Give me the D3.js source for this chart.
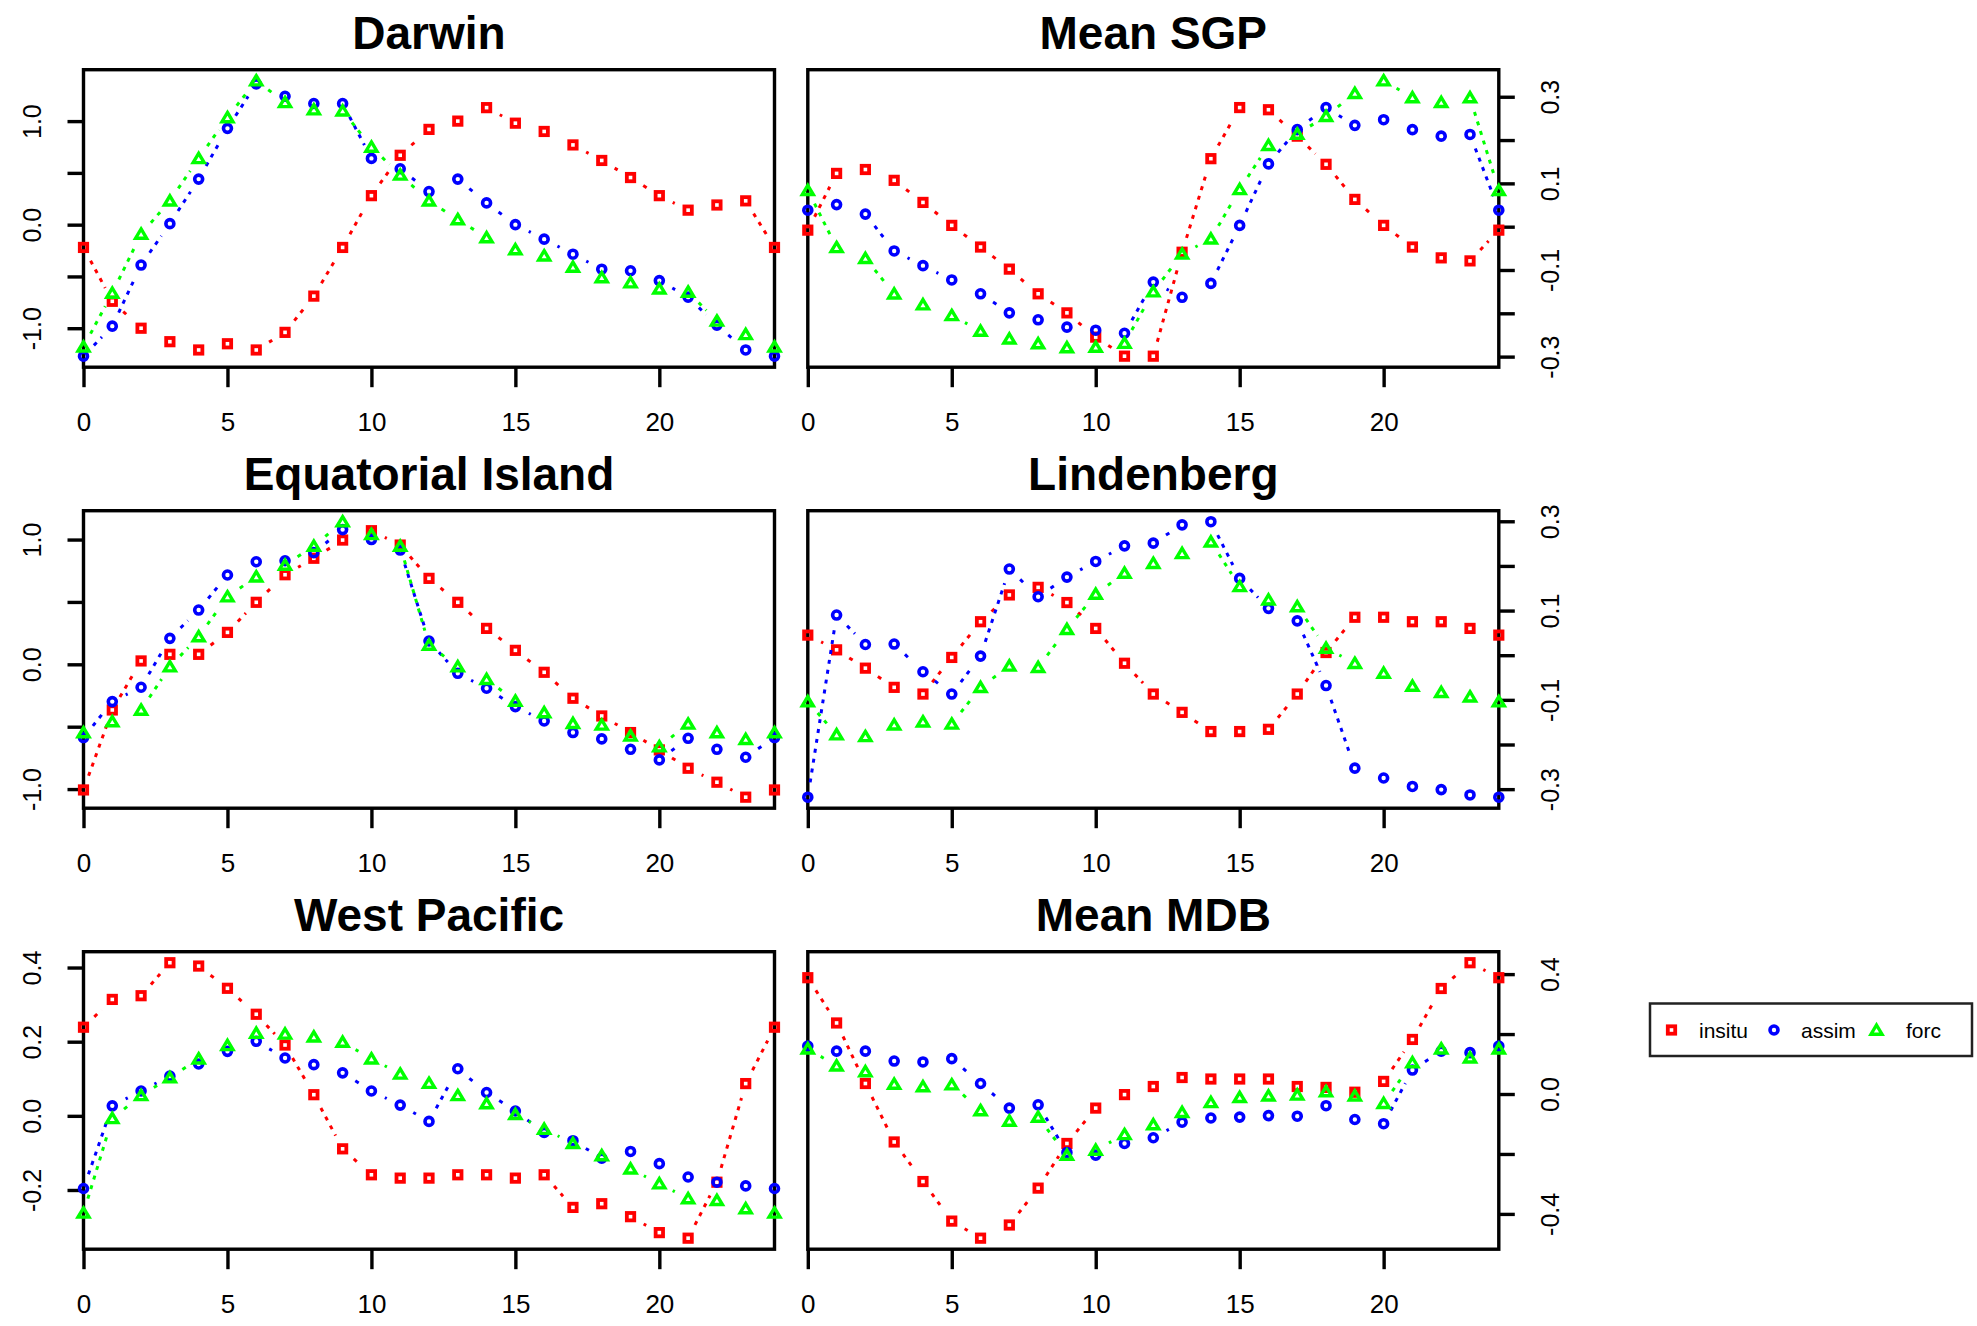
<!DOCTYPE html>
<html>
<head>
<meta charset="utf-8">
<script src="https://cdn.jsdelivr.net/npm/d3@7"></script>
<style>
body { margin: 0; background: #fff; }
svg text { font-family: "Liberation Sans", Arial, sans-serif; fill: #000; }
</style>
</head>
<body>
<div id="chart"></div>
<script>
// hours of the diurnal cycle
var hours = [0,1,2,3,4,5,6,7,8,9,10,11,12,13,14,15,16,17,18,19,20,21,22,23,24]
var xTicks = [0,5,10,15,20]

var seriesNames = ["insitu","assim","forc"]
var seriesColors = ["#ff0000","#0000ff","#00ff00"]

// Darwin
var darwinInsitu = [-0.22,-0.74,-1.00,-1.13,-1.21,-1.15,-1.21,-1.04,-0.69,-0.22,0.28,0.67,0.92,1.00,1.13,0.98,0.90,0.77,0.62,0.455,0.28,0.14,0.19,0.23,-0.22]
var darwinAssim = [-1.27,-0.98,-0.39,0.01,0.44,0.93,1.36,1.24,1.17,1.17,0.64,0.54,0.32,0.44,0.21,0.00,-0.14,-0.285,-0.43,-0.445,-0.54,-0.70,-0.97,-1.21,-1.27]
var darwinForc = [-1.18,-0.66,-0.09,0.23,0.64,1.035,1.39,1.18,1.11,1.10,0.75,0.48,0.23,0.05,-0.125,-0.24,-0.30,-0.41,-0.51,-0.56,-0.62,-0.65,-0.93,-1.06,-1.18]
var darwinTicks = [-1,-0.5,0,0.5,1]
var darwinLabels = [-1,0,1]

// Mean SGP
var sgpInsitu = [-0.008,0.123,0.132,0.107,0.056,0.003,-0.047,-0.098,-0.155,-0.199,-0.255,-0.299,-0.299,-0.059,0.157,0.275,0.27,0.209,0.144,0.063,0.003,-0.047,-0.072,-0.079,-0.008]
var sgpAssim = [0.038,0.051,0.029,-0.056,-0.09,-0.123,-0.155,-0.199,-0.215,-0.232,-0.239,-0.246,-0.128,-0.163,-0.131,0.003,0.145,0.224,0.275,0.234,0.247,0.224,0.209,0.213,0.038]
var sgpForc = [0.084,-0.048,-0.073,-0.155,-0.18,-0.205,-0.241,-0.259,-0.27,-0.279,-0.278,-0.269,-0.15,-0.063,-0.028,0.086,0.188,0.214,0.255,0.308,0.337,0.298,0.287,0.298,0.084]
var sgpTicks = [-0.3,-0.2,-0.1,0,0.1,0.2,0.3]
var sgpLabels = [-0.3,-0.1,0.1,0.3]

// Equatorial Island
var eqInsitu = [-1.007,-0.366,0.027,0.08,0.08,0.256,0.497,0.718,0.85,0.996,1.071,0.956,0.689,0.497,0.288,0.112,-0.064,-0.272,-0.414,-0.547,-0.686,-0.833,-0.945,-1.065,-1.007]
var eqAssim = [-0.587,-0.299,-0.184,0.208,0.435,0.716,0.822,0.83,0.895,1.08,1.0,0.916,0.187,-0.072,-0.192,-0.339,-0.454,-0.547,-0.598,-0.681,-0.766,-0.593,-0.681,-0.745,-0.587]
var eqForc = [-0.547,-0.459,-0.366,-0.019,0.222,0.542,0.702,0.796,0.948,1.143,1.041,0.948,0.155,-0.019,-0.12,-0.294,-0.387,-0.473,-0.486,-0.574,-0.66,-0.478,-0.547,-0.601,-0.547]
var eqTicks = [-1,-0.5,0,0.5,1]
var eqLabels = [-1,0,1]

// Lindenberg
var lindInsitu = [0.045,0.012,-0.029,-0.072,-0.087,-0.005,0.075,0.135,0.152,0.118,0.06,-0.018,-0.087,-0.128,-0.171,-0.171,-0.166,-0.087,0.006,0.085,0.085,0.075,0.075,0.06,0.045]
var lindAssim = [-0.318,0.09,0.024,0.025,-0.037,-0.087,-0.002,0.193,0.131,0.175,0.21,0.245,0.251,0.292,0.299,0.172,0.105,0.077,-0.068,-0.253,-0.275,-0.294,-0.301,-0.313,-0.318]
var lindForc = [-0.104,-0.178,-0.182,-0.156,-0.149,-0.154,-0.072,-0.024,-0.027,0.058,0.137,0.184,0.206,0.228,0.254,0.154,0.124,0.109,0.016,-0.018,-0.04,-0.069,-0.083,-0.093,-0.104]
var lindTicks = [-0.3,-0.2,-0.1,0,0.1,0.2,0.3]
var lindLabels = [-0.3,-0.1,0.1,0.3]

// West Pacific
var wpInsitu = [0.239,0.314,0.324,0.413,0.404,0.344,0.274,0.191,0.057,-0.089,-0.159,-0.168,-0.168,-0.159,-0.159,-0.168,-0.159,-0.247,-0.237,-0.272,-0.315,-0.33,-0.179,0.087,0.239]
var wpAssim = [-0.196,0.027,0.067,0.107,0.14,0.174,0.201,0.156,0.138,0.116,0.067,0.029,-0.015,0.127,0.063,0.013,-0.045,-0.067,-0.114,-0.096,-0.129,-0.165,-0.179,-0.189,-0.196]
var wpForc = [-0.262,-0.007,0.055,0.103,0.154,0.19,0.223,0.221,0.213,0.199,0.154,0.113,0.088,0.055,0.033,0.004,-0.036,-0.074,-0.107,-0.143,-0.183,-0.223,-0.228,-0.25,-0.262]
var wpTicks = [-0.2,0,0.2,0.4]
var wpLabels = [-0.2,0,0.2,0.4]

// Mean MDB
var mdbInsitu = [0.388,0.237,0.035,-0.16,-0.292,-0.424,-0.481,-0.437,-0.314,-0.165,-0.047,-0.002,0.025,0.055,0.05,0.05,0.05,0.025,0.022,0.006,0.042,0.182,0.352,0.438,0.388]
var mdbAssim = [0.16,0.143,0.143,0.11,0.107,0.118,0.035,-0.047,-0.036,-0.195,-0.204,-0.165,-0.146,-0.094,-0.08,-0.077,-0.072,-0.074,-0.039,-0.085,-0.099,0.08,0.143,0.138,0.16]
var mdbForc = [0.151,0.094,0.075,0.033,0.025,0.031,-0.055,-0.09,-0.077,-0.204,-0.187,-0.135,-0.102,-0.061,-0.028,-0.011,-0.006,-0.003,0.008,-0.006,-0.031,0.105,0.151,0.121,0.151]
var mdbTicks = [-0.4,-0.2,0,0.2,0.4]
var mdbLabels = [-0.4,0,0.4]

var fmt = d3.formatLocale({decimal: ".", thousands: ",", grouping: [3], currency: ["", ""], minus: "-"}).format(".1f")

var svg = d3.select("#chart").append("svg")
    .attr("width", 1977)
    .attr("height", 1326)
svg.append("rect").attr("width", 1977).attr("height", 1326).attr("fill", "#fff")

// one R style panel: box, axes, points joined by broken lines (type = "b")
DiurnalPanel = function(_svg, _title, _series, _ticks, _labels, _left, _top, _side){
    this.svg = _svg
    this.title = _title
    this.series = _series
    this.ticks = _ticks
    this.labels = _labels
    this.left = _left
    this.top = _top
    this.side = _side
    this.initVis()
}

DiurnalPanel.prototype.initVis = function(){
    var vis = this
    vis.width = 691
    vis.height = 297.5
    vis.g = vis.svg.append("g").attr("transform", "translate(" + vis.left + "," + vis.top + ")")

    vis.x = d3.scaleLinear().domain([0, 24]).range([0, vis.width])
    // R default: data range padded 4%
    var ext = d3.extent(d3.merge(vis.series))
    var pad = (ext[1] - ext[0]) * 0.04
    vis.y = d3.scaleLinear().domain([ext[0] - pad, ext[1] + pad]).range([vis.height, 0])

    vis.g.append("text")
        .attr("x", vis.width / 2)
        .attr("y", -21)
        .attr("text-anchor", "middle")
        .style("font-size", "46px")
        .style("font-weight", "bold")
        .text(vis.title)

    vis.g.append("rect")
        .attr("width", vis.width)
        .attr("height", vis.height)
        .attr("fill", "none")
        .attr("stroke", "#000")
        .attr("stroke-width", 3.4)

    var xAxis = d3.axisBottom(vis.x).tickValues(xTicks).tickSize(20).tickPadding(25).tickFormat(d3.format("d"))
    var gx = vis.g.append("g").attr("transform", "translate(0," + vis.height + ")").call(xAxis)
    gx.select(".domain").remove()
    gx.selectAll("line").attr("stroke-width", 3.4)
    gx.selectAll("text").style("font-size", "26px").attr("font-family", null)

    var labelSet = vis.labels.map(function(d){ return fmt(d) })
    var yAxis = (vis.side == "left" ? d3.axisLeft(vis.y) : d3.axisRight(vis.y))
        .tickValues(vis.ticks).tickSize(16)
        .tickFormat(function(d){
            var s = fmt(d)
            return labelSet.indexOf(s) >= 0 ? s : ""
        })
    var gy = vis.g.append("g")
        .attr("transform", vis.side == "left" ? null : "translate(" + vis.width + ",0)")
        .call(yAxis)
    gy.select(".domain").remove()
    gy.selectAll("line").attr("stroke-width", 3.4)
    gy.selectAll("text")
        .attr("x", null).attr("dy", null)
        .attr("text-anchor", "middle")
        .attr("dominant-baseline", "central")
        .attr("transform", "translate(" + (vis.side == "left" ? -52 : 51) + ",0) rotate(-90)")
        .style("font-size", "25px")

    vis.updateVis()
}

DiurnalPanel.prototype.updateVis = function(){
    var vis = this
    var gap = 15

    vis.series.forEach(function(values, k){
        var pts = hours.map(function(h, i){ return [vis.x(h), vis.y(values[i])] })
        var segs = []
        for (var i = 0; i < pts.length - 1; i++) {
            var dx = pts[i+1][0] - pts[i][0], dy = pts[i+1][1] - pts[i][1]
            var len = Math.sqrt(dx*dx + dy*dy)
            if (len > 2 * gap + 2) {
                segs.push([pts[i][0] + dx/len*gap, pts[i][1] + dy/len*gap,
                           pts[i+1][0] - dx/len*gap, pts[i+1][1] - dy/len*gap])
            }
        }
        var sg = vis.g.append("g").attr("class", "series-" + seriesNames[k])
        sg.selectAll("line").data(segs).enter().append("line")
            .attr("x1", function(d){ return d[0] })
            .attr("y1", function(d){ return d[1] })
            .attr("x2", function(d){ return d[2] })
            .attr("y2", function(d){ return d[3] })
            .attr("stroke", seriesColors[k])
            .attr("stroke-width", 3)
            .attr("stroke-dasharray", "4,6")

        var marks = sg.selectAll(".mark").data(pts).enter()
        drawMarker(marks, k)
    })
}

function drawMarker(sel, k){
    if (k == 0) {
        sel.append("rect")
            .attr("x", function(d){ return d[0] - 3.7 })
            .attr("y", function(d){ return d[1] - 3.7 })
            .attr("width", 7.4).attr("height", 7.4)
            .attr("fill", "none").attr("stroke", seriesColors[0]).attr("stroke-width", 3.8)
    } else if (k == 1) {
        sel.append("circle")
            .attr("cx", function(d){ return d[0] })
            .attr("cy", function(d){ return d[1] })
            .attr("r", 4)
            .attr("fill", "none").attr("stroke", seriesColors[1]).attr("stroke-width", 3.6)
    } else {
        sel.append("path")
            .attr("transform", function(d){ return "translate(" + d[0] + "," + d[1] + ")" })
            .attr("d", "M0,-5L5.5,4.2L-5.5,4.2Z")
            .attr("fill", "none").attr("stroke", seriesColors[2]).attr("stroke-width", 3.4)
            .attr("stroke-linejoin", "miter")
    }
}

var colLeft = [83.5, 807.8]
var rowTop = [69.7, 510.7, 951.7]

new DiurnalPanel(svg, "Darwin", [darwinInsitu, darwinAssim, darwinForc], darwinTicks, darwinLabels, colLeft[0], rowTop[0], "left")
new DiurnalPanel(svg, "Mean SGP", [sgpInsitu, sgpAssim, sgpForc], sgpTicks, sgpLabels, colLeft[1], rowTop[0], "right")
new DiurnalPanel(svg, "Equatorial Island", [eqInsitu, eqAssim, eqForc], eqTicks, eqLabels, colLeft[0], rowTop[1], "left")
new DiurnalPanel(svg, "Lindenberg", [lindInsitu, lindAssim, lindForc], lindTicks, lindLabels, colLeft[1], rowTop[1], "right")
new DiurnalPanel(svg, "West Pacific", [wpInsitu, wpAssim, wpForc], wpTicks, wpLabels, colLeft[0], rowTop[2], "left")
new DiurnalPanel(svg, "Mean MDB", [mdbInsitu, mdbAssim, mdbForc], mdbTicks, mdbLabels, colLeft[1], rowTop[2], "right")

// legend
var legend = svg.append("g").attr("transform", "translate(1650,1003.5)")
legend.append("rect")
    .attr("width", 322).attr("height", 52.5)
    .attr("fill", "#fff").attr("stroke", "#222").attr("stroke-width", 2.5)
var legendSymX = [21.5, 124, 226.5]
var legendTextX = [49, 151, 256]
seriesNames.forEach(function(name, k){
    var item = legend.append("g")
    drawMarker(item.selectAll(".m").data([[legendSymX[k], 26.5]]).enter(), k)
    item.append("text")
        .attr("x", legendTextX[k]).attr("y", 26.5)
        .attr("dominant-baseline", "central")
        .style("font-size", "21px")
        .text(name)
})
</script>
</body>
</html>
